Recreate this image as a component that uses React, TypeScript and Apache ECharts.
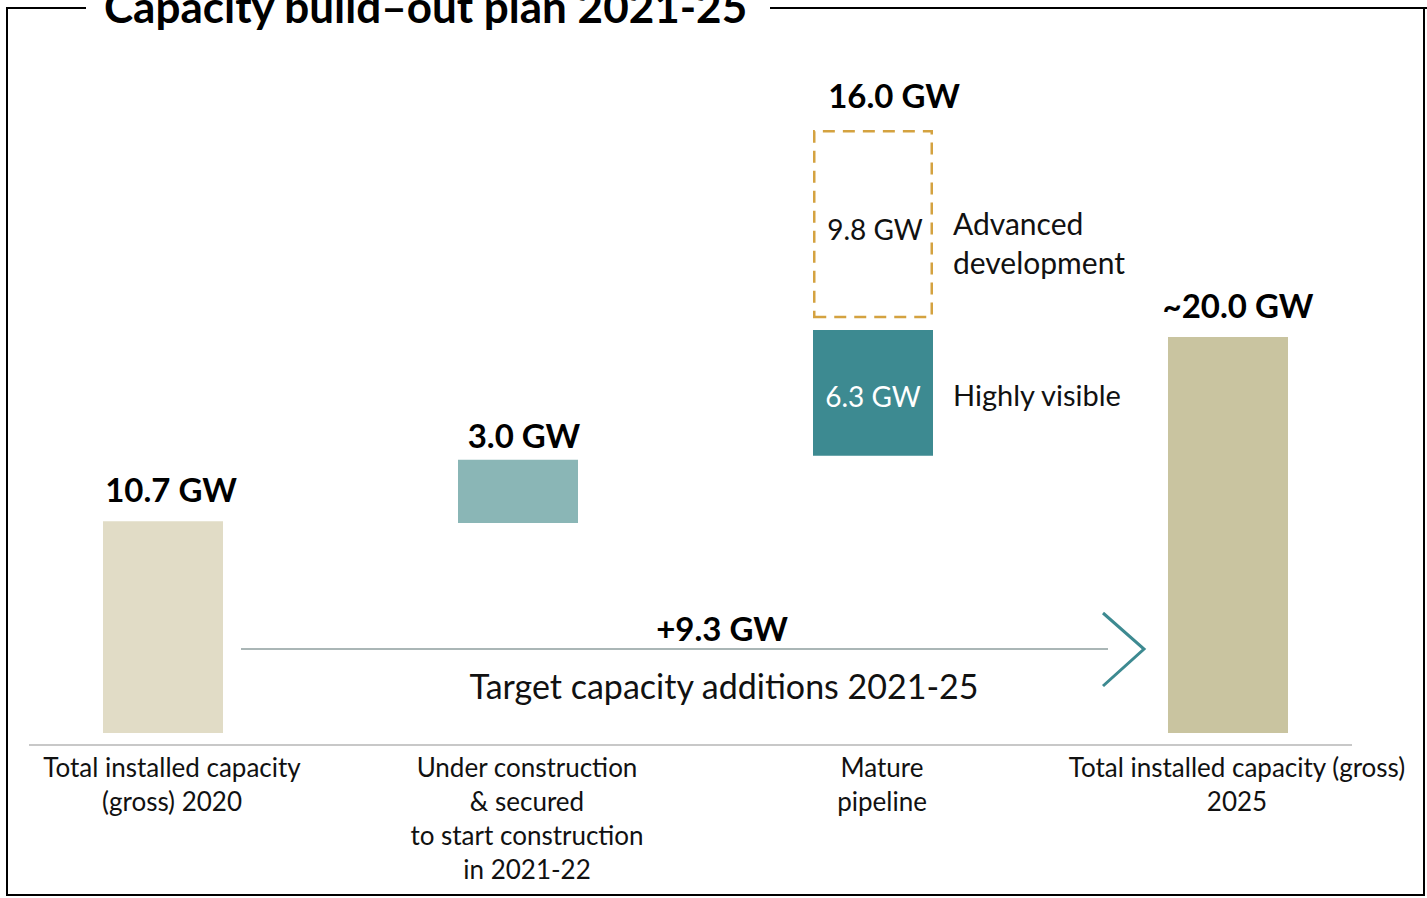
import React, { useEffect, useRef } from "react";
import * as echarts from "echarts";

const categories = [
  "Total installed capacity\n(gross) 2020",
  "Under construction\n& secured\nto start construction\nin 2021-22",
  "Mature\npipeline",
  "Total installed capacity (gross)\n2025",
];
// invisible offsets under each floating step (GW)
const baseValues = [0, 10.6, 14.0, 0];
// visible solid steps (GW)
const stepValues = [10.7, 3.2, 6.35, 20.0];
// small gap between the highly visible and advanced-development blocks
const gapValues = [0, 0, 0.6, 0];
// dashed advanced-development block
const dashedValues: (number | string)[] = ["-", "-", 9.5, "-"];
const stepLabels = ["10.7 GW", "3.0 GW", "6.3 GW", "~20.0 GW"];
const dashedLabel = "9.8 GW";
const pipelineTotalLabel = "16.0 GW";
const additionLabel = "+9.3 GW";

const FONT = "Lato, 'Open Sans', sans-serif";

export default function App() {
  const ref = useRef<HTMLDivElement>(null);
  useEffect(() => {
    const chart = echarts.init(ref.current!, null, { renderer: "svg" });
    const colors = ["#e1dcc6", "#8ab6b6", "#3d8a91", "#c9c4a0"];
    const labelDistances = [16, 8, 0, 16];
    const labelOffsets = [8, 6, 0, 10];
    const option: any = {
      animation: false,
      backgroundColor: "#ffffff",
      grid: { left: 163, right: 199, top: 40, bottom: 165, containLabel: false },
      xAxis: {
        type: "category",
        data: categories,
        boundaryGap: false,
        axisLine: { show: false },
        axisTick: { show: false },
        axisLabel: {
          interval: 0,
          margin: 17,
          fontFamily: FONT,
          fontSize: 26,
          lineHeight: 34,
          color: "#111111",
          align: "center",
          padding: [0, 0, 0, 18],
        },
      },
      yAxis: {
        type: "value",
        min: 0,
        max: 35,
        show: false,
        splitLine: { show: false },
      },
      series: [
        {
          type: "bar",
          stack: "s",
          clip: false,
          data: baseValues,
          barWidth: 120,
          itemStyle: { color: "transparent" },
          silent: true,
        },
        {
          type: "bar",
          stack: "s",
          clip: false,
          barWidth: 120,
          data: stepValues.map((v, i) => ({
            value: v,
            itemStyle: { color: colors[i] },
            label:
              i === 2
                ? {
                    show: true,
                    position: "inside",
                    formatter: stepLabels[i],
                    color: "#ffffff",
                    fontFamily: FONT,
                    fontSize: 28,
                    offset: [0, 3],
                  }
                : {
                    show: true,
                    position: "top",
                    distance: labelDistances[i],
                    offset: [labelOffsets[i], 0],
                    formatter: stepLabels[i],
                    color: "#000000",
                    fontFamily: FONT,
                    fontWeight: "bold",
                    fontSize: 33,
                    lineHeight: 33,
                  },
          })),
        },
        {
          type: "bar",
          stack: "s",
          clip: false,
          barWidth: 120,
          data: gapValues,
          itemStyle: { color: "transparent" },
          silent: true,
        },
        {
          type: "bar",
          stack: "s",
          clip: false,
          barWidth: 117,
          data: dashedValues,
          itemStyle: {
            color: "rgba(255,255,255,0)",
            borderColor: "#d4a240",
            borderWidth: 2.5,
            borderType: [12, 8],
          },
          label: {
            show: true,
            position: "inside",
            formatter: dashedLabel,
            color: "#111111",
            fontFamily: FONT,
            fontSize: 28,
            offset: [2, 5],
          },
        },
      ],
      graphic: [
        // frame
        { type: "line", shape: { x1: 7, y1: 8, x2: 86, y2: 8 }, style: { stroke: "#000", lineWidth: 2 } },
        { type: "line", shape: { x1: 770, y1: 8, x2: 1427, y2: 8 }, style: { stroke: "#000", lineWidth: 2 } },
        { type: "line", shape: { x1: 7, y1: 7, x2: 7, y2: 896 }, style: { stroke: "#000", lineWidth: 2 } },
        { type: "line", shape: { x1: 6, y1: 895, x2: 1425, y2: 895 }, style: { stroke: "#000", lineWidth: 2 } },
        { type: "line", shape: { x1: 1424, y1: 8, x2: 1424, y2: 896 }, style: { stroke: "#000", lineWidth: 2 } },
        {
          type: "text",
          x: 104,
          y: 28,
          style: {
            text: "Capacity build–out plan 2021-25",
            fontFamily: FONT,
            fontWeight: "bold",
            fontSize: 44,
            fill: "#000",
            textVerticalAlign: "bottom",
          },
        },
        // baseline
        { type: "line", shape: { x1: 29, y1: 745, x2: 1352, y2: 745 }, style: { stroke: "#c8c8c8", lineWidth: 2 } },
        // addition arrow
        { type: "line", shape: { x1: 241, y1: 649, x2: 1108, y2: 649 }, style: { stroke: "#8e9e9e", lineWidth: 1.5 } },
        {
          type: "polyline",
          shape: { points: [[1103, 613], [1144, 649], [1103, 686]] },
          style: { stroke: "#3d8a91", lineWidth: 3, fill: null },
        },
        {
          type: "text",
          x: 722,
          y: 628,
          style: {
            text: additionLabel,
            fontFamily: FONT,
            fontWeight: "bold",
            fontSize: 33,
            fill: "#000",
            textAlign: "center",
            textVerticalAlign: "middle",
          },
        },
        {
          type: "text",
          x: 724,
          y: 685,
          style: {
            text: "Target capacity additions 2021-25",
            fontFamily: FONT,
            fontSize: 34,
            fill: "#111",
            textAlign: "center",
            textVerticalAlign: "middle",
          },
        },
        {
          type: "text",
          x: 894,
          y: 95,
          style: {
            text: pipelineTotalLabel,
            fontFamily: FONT,
            fontWeight: "bold",
            fontSize: 33,
            fill: "#000",
            textAlign: "center",
            textVerticalAlign: "middle",
          },
        },
        {
          type: "text",
          x: 953,
          y: 242,
          style: {
            text: "Advanced\ndevelopment",
            fontFamily: FONT,
            fontSize: 30,
            lineHeight: 39,
            fill: "#111",
            textAlign: "left",
            textVerticalAlign: "middle",
          },
        },
        {
          type: "text",
          x: 953,
          y: 394,
          style: {
            text: "Highly visible",
            fontFamily: FONT,
            fontSize: 29,
            fill: "#111",
            textAlign: "left",
            textVerticalAlign: "middle",
          },
        },
      ],
    };
    chart.setOption(option);
    return () => chart.dispose();
  }, []);
  return (
    <div
      ref={ref}
      style={{ position: "fixed", left: 0, top: 0, width: 1427, height: 898, background: "#fff" }}
    />
  );
}
